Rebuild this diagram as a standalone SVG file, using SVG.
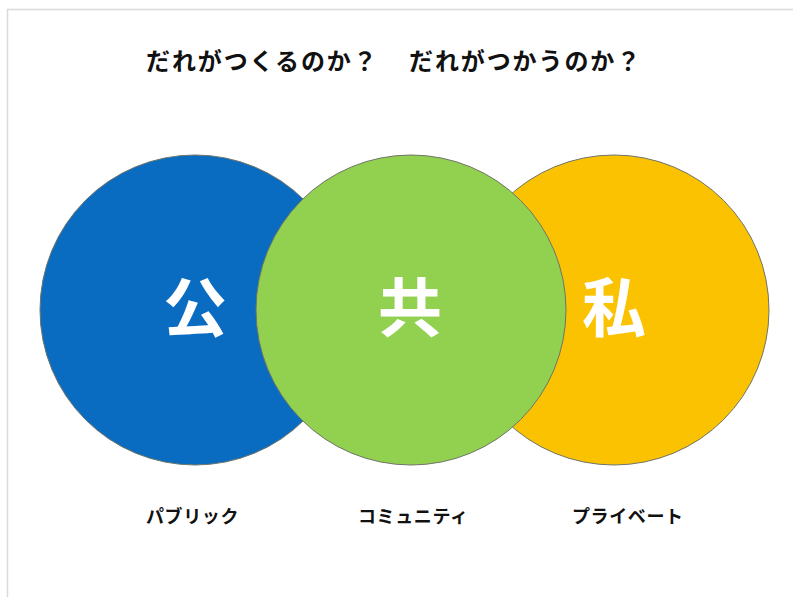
<svg xmlns="http://www.w3.org/2000/svg" width="793" height="597" viewBox="0 0 793 597">
  <style>
    .circle { stroke: #6f7468; stroke-width: 1; }
    .big { font-family: "Noto Sans CJK JP", "Noto Sans", sans-serif; font-weight: bold; font-size: 64px; fill: #ffffff; text-anchor: middle; }
    .label { font-family: "Noto Sans CJK JP", "Noto Sans", sans-serif; font-weight: bold; font-size: 18px; fill: #111111; letter-spacing: 0.6px; }
    .title { font-family: "Noto Sans CJK JP", "Noto Sans", sans-serif; font-weight: bold; font-size: 24px; fill: #111111; letter-spacing: 1.9px; }
  </style>
  <rect x="0" y="0" width="793" height="597" fill="#ffffff"/>
  <rect x="7.5" y="9.5" width="800" height="600" fill="none" stroke="#dadada" stroke-width="1.5"/>
  <text class="title" x="146" y="70">だれがつくるのか？<tspan x="409">だれがつかうのか？</tspan></text>
  <g id="node-public">
    <circle class="circle" cx="195" cy="310" r="155" fill="#0a6cc0"/>
    <text class="big" x="195" y="331">公</text>
  </g>
  <g id="node-private">
    <circle class="circle" cx="614" cy="310" r="155" fill="#fac200"/>
    <text class="big" x="614" y="331">私</text>
  </g>
  <g id="node-community">
    <circle class="circle" cx="411" cy="310" r="155" fill="#92d050"/>
    <text class="big" x="410" y="331">共</text>
  </g>
  <g id="connectors"></g>
  <g id="labels">
    <text class="label" x="146" y="523">パブリック</text>
    <text class="label" x="358" y="523">コミュニティ</text>
    <text class="label" x="572" y="523">プライベート</text>
  </g>
</svg>
